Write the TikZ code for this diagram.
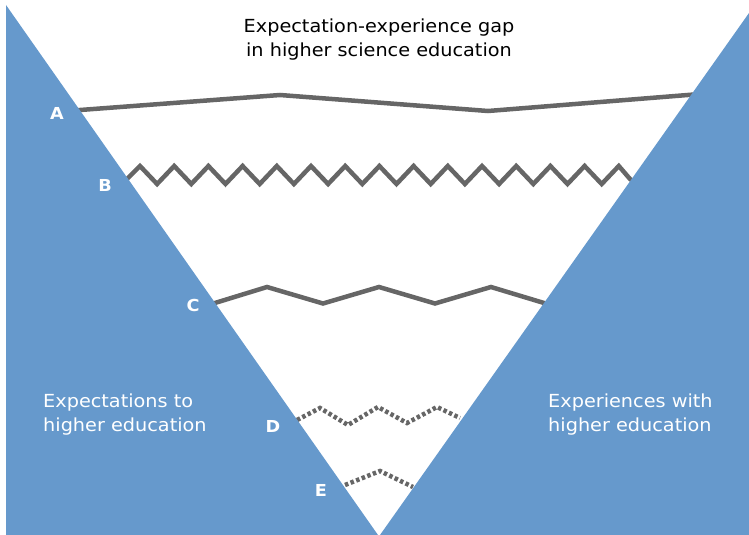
\documentclass[tikz,border=0pt]{standalone}
\usepackage{fontspec}
\setmainfont[FakeStretch=1.07]{DejaVu Sans}
\definecolor{wedgeblue}{HTML}{6699CC}
\definecolor{gapgray}{HTML}{666666}
\tikzset{
  wedge/.style={fill=wedgeblue, draw=none},
  gapline/.style={draw=gapgray, line width=4.5pt, line join=miter},
  gapdotted/.style={gapline, dash pattern=on 3.5pt off 2.5pt},
  letter/.style={text=white, font=\fontsize{16.5}{17}\selectfont\bfseries, inner sep=0pt},
  sidetext/.style={text=white, font=\fontsize{18}{23.5}\selectfont, align=left, inner sep=0pt, anchor=base west},
  titletext/.style={text=black, font=\fontsize{18}{24}\selectfont, align=center, inner sep=0pt}
}
\begin{document}
\begin{tikzpicture}[x=1pt, y=-1pt]
\useasboundingbox (0,0) rectangle (749,535);
% gap lines
\coordinate (a0) at (76,110.3);
\coordinate (a1) at (280,95);
\coordinate (a2) at (488,111);
\coordinate (a3) at (694,94.5);
\draw[gapline] (a0) -- (a1) -- (a2) -- (a3);
\coordinate (b0) at (124,182);
\coordinate (b1) at (634,182);
\draw[gapline] (b0) -- (128,178)
  \foreach \k in {0,...,13} { -- ({140+34.2*\k},166) -- ({157.1+34.2*\k},184) }
  -- (618.8,166) -- (630,179) -- (b1);
\coordinate (c0) at (210,304.5);
\coordinate (c1) at (549,304.5);
\draw[gapline] (c0) -- (267,287) -- (323,303.5) -- (379,287) -- (435,303.5) -- (491,287) -- (c1);
\coordinate (d0) at (297,420);
\coordinate (d1) at (460,418);
\draw[gapdotted] (d0) -- (320,408) -- (348,425) -- (378,407) -- (407,423) -- (437,407) -- (d1);
\coordinate (e0) at (345,485);
\coordinate (e1) at (413,487);
\draw[gapdotted] (e0) -- (380,471) -- (e1);
% wedges
\fill[wedge] (6,5) -- (378,535) -- (6,535) -- cycle;
\fill[wedge] (380,535) -- (749,13) -- (749,535) -- cycle;
% letters
\node[letter] (la) at (57,113) {A};
\node[letter] (lb) at (105,185) {B};
\node[letter] (lc) at (193,305) {C};
\node[letter] (ld) at (273,426) {D};
\node[letter] (le) at (321,490) {E};
% texts
\node[titletext, anchor=base] (title) at (379,56.7) {Expectation-experience gap\\in higher science education};
\node[sidetext] (expect) at (43,431) {Expectations to\\higher education};
\node[sidetext] (exper) at (548,431) {Experiences with\\higher education};
\end{tikzpicture}
\end{document}
